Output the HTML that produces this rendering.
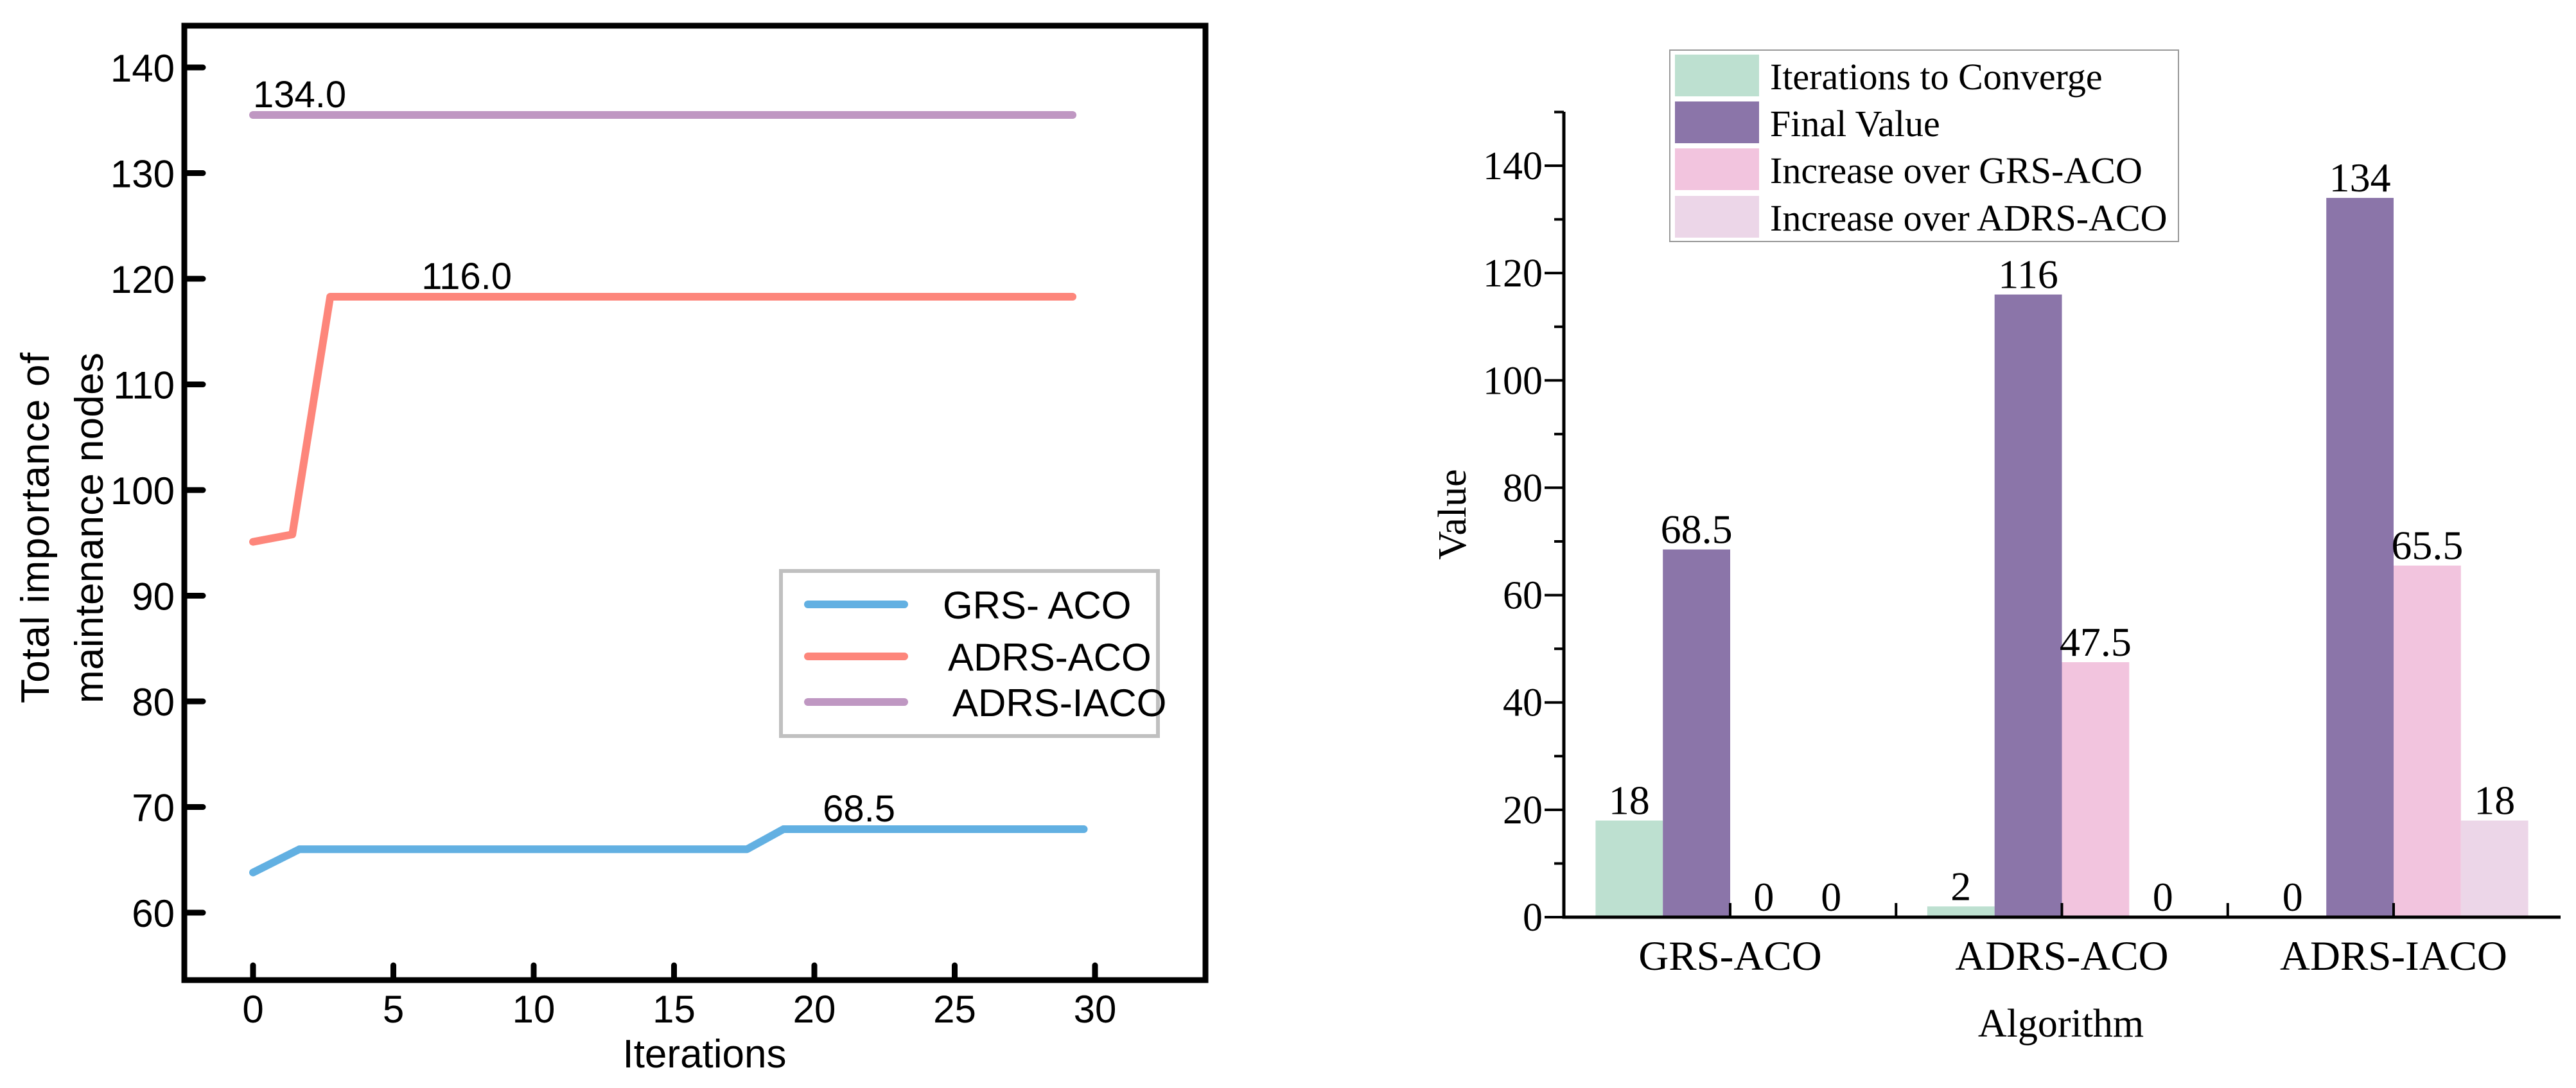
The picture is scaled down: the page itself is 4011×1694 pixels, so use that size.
<!DOCTYPE html>
<html><head><meta charset="utf-8"><style>
html,body{margin:0;padding:0;background:#fff;}
svg{display:block;}
.s{font-family:"Liberation Sans",sans-serif;}
.t{font-family:"Liberation Serif",serif;}
</style></head><body>
<svg id="svg" width="4011" height="1694" viewBox="0 0 4011 1694" xmlns="http://www.w3.org/2000/svg">
<g id="left"></g>
<g id="right"></g>
</svg>
<script>
// ---- line chart data ----
const lineSeriesNames = ["GRS- ACO", "ADRS-ACO", "ADRS-IACO"];
const grsX = [0, 1.65, 17.6, 18.9, 29.6];
const grsY = [63.8, 66.0, 66.0, 67.9, 67.9];
const adrsX = [0, 1.4, 2.75, 29.2];
const adrsY = [95.1, 95.8, 118.3, 118.3];
const iacoX = [0, 29.2];
const iacoY = [135.5, 135.5];
const lineYTicks = [60, 70, 80, 90, 100, 110, 120, 130, 140];
const lineXTicks = [0, 5, 10, 15, 20, 25, 30];
const lineAnnotations = ["134.0", "116.0", "68.5"];
const annotX = [0, 6, 20.3];
const annotY = [135.5, 118.3, 67.9];

// ---- bar chart data ----
const barCategories = ["GRS-ACO", "ADRS-ACO", "ADRS-IACO"];
const barSeriesNames = ["Iterations to Converge", "Final Value", "Increase over GRS-ACO", "Increase over ADRS-ACO"];
const iterationsToConverge = [18, 2, 0];
const finalValue = [68.5, 116, 134];
const increaseOverGRS = [0, 47.5, 65.5];
const increaseOverADRS = [0, 0, 18];
const barYTicks = [0, 20, 40, 60, 80, 100, 120, 140];

const NS = "http://www.w3.org/2000/svg";
function mk(parent, tag, attrs, text) {
  const e = document.createElementNS(NS, tag);
  for (const k in attrs) e.setAttribute(k, attrs[k]);
  if (text !== undefined) e.textContent = text;
  parent.appendChild(e);
  return e;
}

// ===== LEFT =====
(function () {
  const g = document.getElementById('left');
  const x = v => 394 + v * (1705 - 394) / 30;
  const y = v => 1421 - (v - 60) * (1421 - 105) / 80;
  const frame = mk(g, 'rect', {x: 287, y: 40, width: 1590, height: 1486, fill: 'none', stroke: '#000', 'stroke-width': 9});
  
  
  lineYTicks.forEach(v => {
    const t = mk(g, 'line', {x1: 287, x2: 316, y1: y(v), y2: y(v), stroke: '#000', 'stroke-width': 9, 'stroke-linecap': 'round'});
    
    
    const l = mk(g, 'text', {x: 272, y: y(v) + 22, 'text-anchor': 'end', 'font-size': 60, class: 's'}, String(v));
    
    
  });
  lineXTicks.forEach(v => {
    const t = mk(g, 'line', {x1: x(v), x2: x(v), y1: 1503, y2: 1526, stroke: '#000', 'stroke-width': 9, 'stroke-linecap': 'round'});
    
    
    const l = mk(g, 'text', {x: x(v), y: 1592, 'text-anchor': 'middle', 'font-size': 60, class: 's'}, String(v));
    
    
  });
  const series = [[grsX, grsY, '#62b0e2'], [adrsX, adrsY, '#fd867b'], [iacoX, iacoY, '#bf97c2']];
  series.forEach((s, i) => {
    const pts = s[0].map((v, j) => x(v) + ',' + y(s[1][j])).join(' ');
    const p = mk(g, 'polyline', {points: pts, fill: 'none', stroke: s[2], 'stroke-width': 12, 'stroke-linecap': 'round', 'stroke-linejoin': 'round'});
    
    
  });
  lineAnnotations.forEach((a, i) => {
    const t = mk(g, 'text', {x: x(annotX[i]), y: y(annotY[i]) - 12, 'font-size': 58, class: 's'}, a);
    
    
  });
  const lg = mk(g, 'g', {});
  
  
  mk(lg, 'rect', {x: 1216, y: 889, width: 587, height: 257, fill: '#fff', stroke: '#c0c0c0', 'stroke-width': 6});
  const ly = [941, 1022, 1093], lx = [1468, 1476, 1483];
  series.forEach((s, i) => {
    const e = mk(lg, 'line', {x1: 1258, x2: 1408, y1: ly[i], y2: ly[i], stroke: s[2], 'stroke-width': 12, 'stroke-linecap': 'round'});
    
    
    const t = mk(lg, 'text', {x: lx[i], y: ly[i] + 22, 'font-size': 60, class: 's'}, lineSeriesNames[i]);
    
    
  });
  const yt = mk(g, 'text', {transform: 'translate(76,822) rotate(-90)', 'text-anchor': 'middle', 'font-size': 62, class: 's', textLength: 546}, 'Total importance of');
  
  
  const yt2 = mk(g, 'text', {transform: 'translate(160,822) rotate(-90)', 'text-anchor': 'middle', 'font-size': 62, class: 's', textLength: 546}, 'maintenance nodes');
  
  
  const xt = mk(g, 'text', {x: 1097, y: 1662, 'text-anchor': 'middle', 'font-size': 62, class: 's'}, 'Iterations');
  
  
})();

// ===== RIGHT =====
(function () {
  const g = document.getElementById('right');
  const y = v => 1428 - v * (1428 - 258) / 140;
  const cx = i => 2694 + i * 516.5;
  const bw = 104.8;
  const colors = ['#bde0d0', '#8b75a9', '#f2c4de', '#ecd6e8'];
  const data = [iterationsToConverge, finalValue, increaseOverGRS, increaseOverADRS];
  barCategories.forEach((c, i) => {
    data.forEach((s, k) => {
      const bx = cx(i) - 2 * bw + k * bw;
      const r = mk(g, 'rect', {x: bx, y: y(s[i]), width: bw, height: y(0) - y(s[i]), fill: colors[k]});
      
      
      const t = mk(g, 'text', {x: bx + bw / 2, y: y(s[i]) - 10, 'text-anchor': 'middle', 'font-size': 64, class: 't'}, String(s[i]));
      
      
    });
    const l = mk(g, 'text', {x: cx(i), y: 1510, 'text-anchor': 'middle', 'font-size': 65, class: 't'}, c);
    
    
  });
  const ax = mk(g, 'path', {d: 'M2435,174 V1428 H3987', fill: 'none', stroke: '#000', 'stroke-width': 5});
  
  
  barYTicks.forEach((v, i) => {
    const t = mk(g, 'line', {x1: 2405, x2: 2435, y1: y(v), y2: y(v), stroke: '#000', 'stroke-width': 4});
    
    
    const m = mk(g, 'line', {x1: 2420, x2: 2435, y1: y(v + 10), y2: y(v + 10), stroke: '#000', 'stroke-width': 4});
    
    
    const l = mk(g, 'text', {x: 2402, y: y(v) + 21, 'text-anchor': 'end', 'font-size': 62, class: 't'}, String(v));
    
    
  });
  [0, 0.5, 1, 1.5, 2].forEach(p => {
    const t = mk(g, 'line', {x1: cx(p), x2: cx(p), y1: 1406, y2: 1428, stroke: '#000', 'stroke-width': 4});
    
    
  });
  const lg = mk(g, 'g', {});
  
  
  mk(lg, 'rect', {x: 2600, y: 78, width: 792, height: 298, fill: '#fff', stroke: '#999', 'stroke-width': 2});
  const sy = [85, 158, 231, 305];
  barSeriesNames.forEach((n, k) => {
    const s = mk(lg, 'rect', {x: 2608, y: sy[k], width: 131, height: 65, fill: colors[k]});
    
    
    const t = mk(lg, 'text', {x: 2756, y: sy[k] + 54, 'font-size': 58, class: 't'}, n);
    
    
  });
  const yt = mk(g, 'text', {transform: 'translate(2282,801) rotate(-90)', 'text-anchor': 'middle', 'font-size': 62, class: 't'}, 'Value');
  
  
  const xt = mk(g, 'text', {x: 3209, y: 1614, 'text-anchor': 'middle', 'font-size': 62, class: 't'}, 'Algorithm');
  
  
})();
</script>
</body></html>
